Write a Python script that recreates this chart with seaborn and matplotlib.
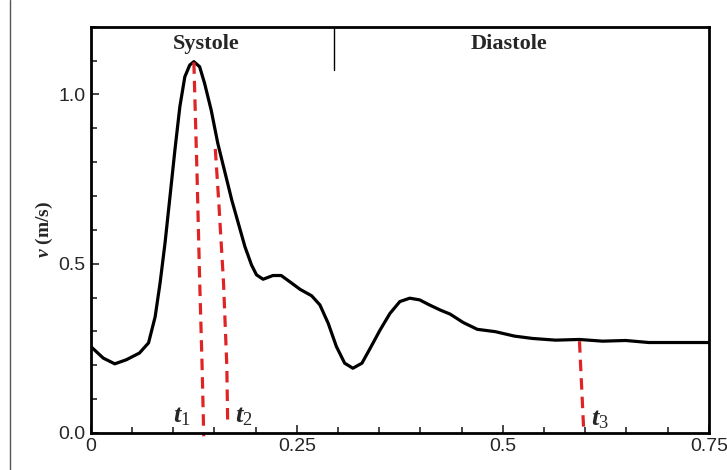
import numpy as np
import pandas as pd
import seaborn as sns
import matplotlib.pyplot as plt
from matplotlib.lines import Line2D
from matplotlib.ticker import MultipleLocator, FixedLocator

# velocity waveform
t = [0.0, 0.015, 0.029, 0.043, 0.059, 0.070, 0.078, 0.084, 0.090, 0.096, 0.102,
     0.108, 0.114, 0.120, 0.125, 0.132, 0.138, 0.146, 0.154, 0.163, 0.171, 0.179,
     0.187, 0.195, 0.201, 0.209, 0.221, 0.231, 0.244, 0.254, 0.268, 0.278, 0.288,
     0.298, 0.308, 0.318, 0.329, 0.339, 0.351, 0.363, 0.375, 0.387, 0.399, 0.411,
     0.424, 0.436, 0.452, 0.469, 0.491, 0.514, 0.536, 0.564, 0.593, 0.621, 0.649,
     0.677, 0.705, 0.750]
v = [0.255, 0.221, 0.204, 0.216, 0.236, 0.266, 0.343, 0.443, 0.561, 0.698, 0.836,
     0.964, 1.052, 1.087, 1.097, 1.082, 1.033, 0.954, 0.856, 0.767, 0.688, 0.619,
     0.550, 0.496, 0.467, 0.454, 0.465, 0.465, 0.442, 0.424, 0.405, 0.378, 0.324,
     0.255, 0.206, 0.191, 0.206, 0.250, 0.304, 0.353, 0.388, 0.398, 0.393, 0.378,
     0.363, 0.351, 0.326, 0.306, 0.299, 0.286, 0.279, 0.274, 0.276, 0.271, 0.273,
     0.267, 0.267, 0.267]

# red dashed markers
t1_x = [0.125, 0.129, 0.132, 0.135, 0.137]
t1_y = [1.095, 0.75, 0.454, 0.197, -0.01]
t2_x = [0.151, 0.155, 0.161, 0.165, 0.166]
t2_y = [0.839, 0.691, 0.444, 0.197, 0.035]
t3_x = [0.593, 0.598]
t3_y = [0.271, 0.015]

x_ticks = [0, 0.25, 0.5, 0.75]
x_labels = ["0", "0.25", "0.5", "0.75"]
y_ticks = [0.0, 0.5, 1.0]
y_labels = ["0.0", "0.5", "1.0"]

sns.set_style("white")
plt.rcParams['font.family'] = ['Liberation Sans', 'DejaVu Sans']
plt.rcParams['mathtext.fontset'] = 'custom'
plt.rcParams['mathtext.it'] = 'Liberation Serif:italic:bold'
plt.rcParams['mathtext.rm'] = 'Liberation Serif'
plt.rcParams['mathtext.bf'] = 'Liberation Serif:bold'

fig = plt.figure(figsize=(7.27, 4.70), dpi=100)
ax = fig.add_axes([0.125, 0.079, 0.85, 0.864])

df = pd.DataFrame({"t": t, "v": v})
sns.lineplot(data=df, x="t", y="v", color="black", linewidth=2.3, ax=ax)
for xs, ys in [(t1_x, t1_y), (t2_x, t2_y), (t3_x, t3_y)]:
    sns.lineplot(x=xs, y=ys, color="#e02424", linewidth=2.3, linestyle=(0, (3.6, 2.2)),
                 ax=ax, sort=False, clip_on=False)

ax.set_xlim(0, 0.75)
ax.set_ylim(0, 1.2)
ax.xaxis.set_major_locator(FixedLocator(x_ticks))
ax.set_xticklabels(x_labels)
ax.yaxis.set_major_locator(FixedLocator(y_ticks))
ax.set_yticklabels(y_labels)
ax.xaxis.set_minor_locator(MultipleLocator(0.05))
ax.yaxis.set_minor_locator(MultipleLocator(0.1))
ax.tick_params(which="both", direction="in", top=False, right=False, bottom=True, left=True,
               labelsize=14, width=1.2, pad=4)
ax.tick_params(which="major", length=6)
ax.tick_params(which="minor", length=4)
for s in ax.spines.values():
    s.set_linewidth(2)
    s.set_color("black")

ax.set_xlabel("")
ax.set_ylabel(r"$\mathit{v}$ (m/s)", family="Liberation Serif", fontweight="bold",
              fontsize=14, labelpad=2)

# systole / diastole divider
ax.plot([0.295, 0.295], [1.2, 1.072], color="black", linewidth=1)
ax.text(0.14, 1.148, "Systole", family="Liberation Serif", fontweight="bold", fontsize=16,
        ha="center", va="center")
ax.text(0.508, 1.148, "Diastole", family="Liberation Serif", fontweight="bold", fontsize=16,
        ha="center", va="center")

for lab, x, y in [("1", 0.11, 0.05), ("2", 0.185, 0.05), ("3", 0.618, 0.04)]:
    ax.text(x, y, r"$\mathit{t}_{" + lab + "}$", fontsize=19, ha="center", va="center")

fig.add_artist(Line2D([0.014, 0.014], [0.0, 1.0], color="#555555", linewidth=1))

fig.savefig("out.png", dpi=100)
